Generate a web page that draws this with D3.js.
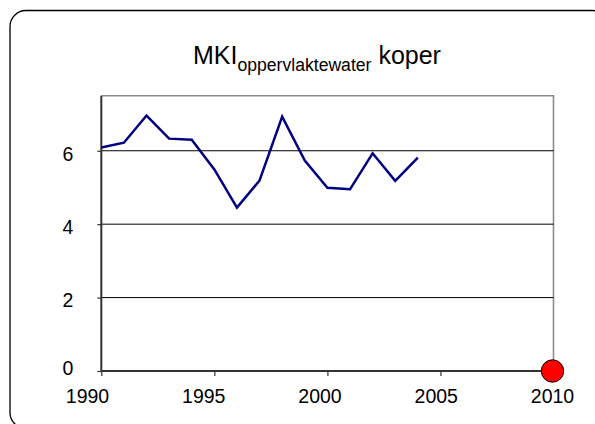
<!DOCTYPE html>
<html>
<head>
<meta charset="utf-8">
<script src="https://cdn.jsdelivr.net/npm/d3@7"></script>
<style>
  html, body { margin: 0; padding: 0; background: #fff; }
  svg { display: block; font-family: "Liberation Sans", Arial, sans-serif; }
</style>
</head>
<body>
<svg id="chart" width="595" height="424"></svg>
<script>
// Data
const years = [1990, 1991, 1992, 1993, 1994, 1995, 1996, 1997, 1998, 1999, 2000, 2001, 2002, 2003, 2004];
const values = [6.09, 6.22, 6.96, 6.33, 6.30, 5.49, 4.45, 5.19, 6.93, 5.73, 4.99, 4.95, 5.93, 5.18, 5.81];
const targetYear = [2010];
const targetValue = [0];
const xTicks = [1990, 1995, 2000, 2005, 2010];
const yTicks = [0, 2, 4, 6];
const titleMain = "MKI";
const titleSub = "oppervlaktewater";
const titleEnd = " koper";

const svg = d3.select("#chart");

// outer rounded frame
svg.append("rect")
  .attr("x", 10).attr("y", 10.5)
  .attr("width", 598).attr("height", 418)
  .attr("rx", 16).attr("ry", 16)
  .attr("fill", "#fff").attr("stroke", "#000").attr("stroke-width", 1.3);

const L = 101.3, R = 553.5, T = 95.7, B = 371;
const x = d3.scaleLinear().domain([1990, 2010]).range([L, R]);
const y = d3.scaleLinear().domain([0, 7.5]).range([B, T]);

// plot area border (top/right grey)
svg.append("path")
  .attr("d", `M${L},${T}H${R}V${B}`)
  .attr("fill", "none").attr("stroke", "#8c8c8c").attr("stroke-width", 1.6);

// gridlines
svg.append("g").selectAll("line")
  .data(yTicks.filter(d => d > 0))
  .join("line")
  .attr("x1", L).attr("x2", R)
  .attr("y1", d => y(d)).attr("y2", d => y(d))
  .attr("stroke", "#000").attr("stroke-width", 1);

// Y axis
const yAxis = svg.append("g")
  .attr("transform", `translate(${L},0)`)
  .call(d3.axisLeft(y).tickValues(yTicks).tickSize(4).tickPadding(24).tickFormat(d3.format("d")));
yAxis.select(".domain").attr("stroke", "#333").attr("stroke-width", 2).attr("d", `M-0,${T}V${B}`);
yAxis.selectAll(".tick line").attr("stroke", "#333").attr("stroke-width", 1.2);
yAxis.selectAll(".tick text")
  .attr("font-size", 19.5).attr("fill", "#000")
  .attr("font-family", '"Liberation Sans", Arial, sans-serif')
  .attr("dy", d => d === 0 ? "0.2em" : "0.48em");

// X axis
const labelPos = d3.scaleLinear().domain([1990, 2010]).range([87, 552]);
const xAxis = svg.append("g")
  .attr("transform", `translate(0,${B})`)
  .call(d3.axisBottom(x).tickValues(xTicks).tickSize(5).tickPadding(13.5).tickFormat(d3.format("d")));
xAxis.select(".domain").attr("stroke", "#333").attr("stroke-width", 2).attr("d", `M${L},0H${R}`);
xAxis.selectAll(".tick line").attr("stroke", "#333").attr("stroke-width", 1.2);
xAxis.selectAll(".tick text")
  .attr("font-size", 19.5).attr("fill", "#000")
  .attr("font-family", '"Liberation Sans", Arial, sans-serif')
  .attr("dx", d => labelPos(d) - x(d));

// series line
const line = d3.line().x((d, i) => x(years[i])).y(d => y(d));
svg.append("path")
  .datum(values)
  .attr("d", line)
  .attr("fill", "none")
  .attr("stroke", "#000080")
  .attr("stroke-width", 2.5)
  .attr("stroke-linejoin", "miter");

// target marker
svg.append("g").selectAll("circle")
  .data(targetValue)
  .join("circle")
  .attr("cx", (d, i) => x(targetYear[i]) - 1)
  .attr("cy", d => y(d))
  .attr("r", 11.2)
  .attr("fill", "#ff0000")
  .attr("stroke", "#000").attr("stroke-width", 1);

// title
const title = svg.append("text")
  .attr("x", 193).attr("y", 63.5)
  .attr("font-size", 25).attr("fill", "#000");
title.append("tspan").text(titleMain);
title.append("tspan").attr("font-size", 17.6).attr("dy", 7.3).text(titleSub);
title.append("tspan").attr("dy", -7.3).text(titleEnd);
</script>
</body>
</html>
